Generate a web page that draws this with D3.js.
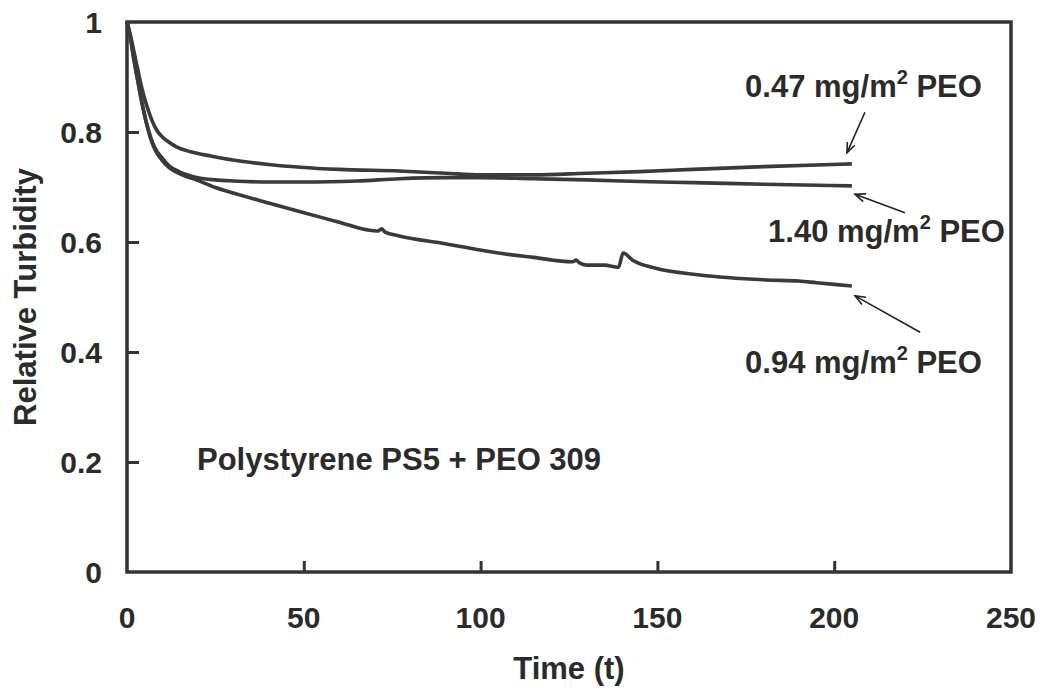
<!DOCTYPE html>
<html>
<head>
<meta charset="utf-8">
<script src="https://cdn.jsdelivr.net/npm/d3@7"></script>
<style>
  body { margin: 0; background: #fff; }
  text { font-family: Arial, "Liberation Sans", sans-serif; font-weight: bold; fill: #2b2b2b; }
</style>
</head>
<body>
<div id="chart"></div>
<script>
// time axis values
var t047 = [0, 1, 2, 3, 4, 5, 6, 7, 8, 9, 10, 11.3, 14, 18, 24, 30, 40, 49, 60, 77, 90, 100, 115, 130, 145, 160, 180, 205];
var v047 = [1.0, 0.975, 0.945, 0.915, 0.885, 0.86, 0.84, 0.822, 0.808, 0.798, 0.791, 0.784, 0.773, 0.764, 0.756, 0.749, 0.741, 0.736, 0.732, 0.729, 0.725, 0.722, 0.722, 0.725, 0.728, 0.732, 0.737, 0.742];

var t140 = [0, 1, 2, 3, 4, 5, 6, 7, 8, 10, 12, 15, 20, 25, 30, 40, 50, 65, 77, 90, 100, 115, 130, 145, 160, 180, 205];
var v140 = [1.0, 0.97, 0.93, 0.895, 0.86, 0.83, 0.805, 0.785, 0.77, 0.752, 0.738, 0.727, 0.717, 0.713, 0.711, 0.709, 0.709, 0.711, 0.715, 0.717, 0.717, 0.715, 0.713, 0.71, 0.708, 0.705, 0.702];

var t094 = [0, 1, 2, 3, 4, 5, 6, 7, 8, 10, 12, 15, 20, 25, 30, 40, 49, 60, 68, 71, 72, 73, 77, 90, 105, 115, 126, 127, 128, 130, 135, 139, 140.3, 143, 149, 162, 181, 190, 195, 205];
var v094 = [1.0, 0.97, 0.93, 0.895, 0.86, 0.83, 0.803, 0.782, 0.767, 0.748, 0.735, 0.724, 0.712, 0.699, 0.689, 0.671, 0.655, 0.636, 0.622, 0.620, 0.624, 0.618, 0.611, 0.597, 0.58, 0.572, 0.564, 0.567, 0.562, 0.558, 0.558, 0.554, 0.58, 0.567, 0.553, 0.54, 0.531, 0.529, 0.526, 0.52];

var xTicks = [0, 50, 100, 150, 200, 250];
var yTicks = [0, 0.2, 0.4, 0.6, 0.8, 1];

// labels: text, start t, baseline v, arrow tail (t,v), arrow head (t,v)
var labelText = ["0.47", "1.40", "0.94"];
var labelT = [174.8, 181.3, 174.8];
var labelV = [0.864, 0.600, 0.362];
var arrowFrom = [[208.7, 0.836], [220, 0.653], [224.3, 0.436]];
var arrowTo = [[203.6, 0.762], [205.9, 0.687], [205.9, 0.502]];

var width = 1040, height = 689;
var margin = {left: 127, right: 29, top: 22, bottom: 117};

var svg = d3.select("#chart").append("svg")
  .attr("width", width)
  .attr("height", height);

var x = d3.scaleLinear().domain([0, 250]).range([margin.left, width - margin.right]);
var y = d3.scaleLinear().domain([0, 1]).range([height - margin.bottom, margin.top]);

var ink = "#333";

// frame
svg.append("rect")
  .attr("x", x(0)).attr("y", y(1))
  .attr("width", x(250) - x(0)).attr("height", y(0) - y(1))
  .attr("fill", "none").attr("stroke", ink).attr("stroke-width", 3.5);

// inward ticks on left and bottom
svg.append("g")
  .attr("transform", "translate(0," + y(0) + ")")
  .call(d3.axisBottom(x).tickValues(xTicks.slice(1, -1)).tickSizeInner(-11).tickSizeOuter(0).tickFormat(""))
  .call(function(g) { g.select(".domain").remove(); })
  .selectAll("line").attr("stroke", ink).attr("stroke-width", 3);

svg.append("g")
  .attr("transform", "translate(" + x(0) + ",0)")
  .call(d3.axisLeft(y).tickValues(yTicks.slice(1, -1)).tickSizeInner(-12).tickSizeOuter(0).tickFormat(""))
  .call(function(g) { g.select(".domain").remove(); })
  .selectAll("line").attr("stroke", ink).attr("stroke-width", 3);

// tick labels
svg.append("g").selectAll("text")
  .data(xTicks)
  .enter().append("text")
    .attr("x", function(d) { return x(d); })
    .attr("y", y(0) + 56)
    .attr("text-anchor", "middle")
    .attr("font-size", 30)
    .text(function(d) { return d; });

svg.append("g").selectAll("text")
  .data(yTicks)
  .enter().append("text")
    .attr("x", x(0) - 25)
    .attr("y", function(d) { return y(d) + 11; })
    .attr("text-anchor", "end")
    .attr("font-size", 30)
    .text(function(d) { return d; });

// axis titles
svg.append("text")
  .attr("x", (x(0) + x(250)) / 2)
  .attr("y", 679)
  .attr("text-anchor", "middle")
  .attr("font-size", 31)
  .text("Time (t)");

svg.append("text")
  .attr("transform", "translate(36," + (y(0) + y(1)) / 2 + ") rotate(-90)")
  .attr("text-anchor", "middle")
  .attr("font-size", 31)
  .text("Relative Turbidity");

// curves
var series = [
  {t: t047, v: v047},
  {t: t140, v: v140},
  {t: t094, v: v094}
];

var line = d3.line()
  .x(function(d) { return x(d[0]); })
  .y(function(d) { return y(d[1]); })
  .curve(d3.curveMonotoneX);

svg.append("g").selectAll("path")
  .data(series)
  .enter().append("path")
    .attr("d", function(s) { return line(d3.zip(s.t, s.v)); })
    .attr("fill", "none")
    .attr("stroke", "#3a3a3a")
    .attr("stroke-width", 3.6)
    .attr("stroke-linejoin", "round");

// annotations
var ann = svg.append("g");
labelText.forEach(function(s, i) {
  var tx = ann.append("text")
    .attr("x", x(labelT[i]))
    .attr("y", y(labelV[i]))
    .attr("font-size", 31);
  tx.append("tspan").text(s + " mg/m");
  tx.append("tspan").attr("dy", -13).attr("font-size", 20).text("2");
  tx.append("tspan").attr("dy", 13).text(" PEO");

  var x1 = x(arrowFrom[i][0]), y1 = y(arrowFrom[i][1]);
  var x2 = x(arrowTo[i][0]), y2 = y(arrowTo[i][1]);
  var a = Math.atan2(y2 - y1, x2 - x1);
  var hl = 11, hw = 0.38;
  ann.append("line")
    .attr("x1", x1).attr("y1", y1).attr("x2", x2).attr("y2", y2)
    .attr("stroke", "#222").attr("stroke-width", 1.6);
  ann.append("path")
    .attr("d", "M" + (x2 - hl * Math.cos(a - hw)) + "," + (y2 - hl * Math.sin(a - hw)) +
               "L" + x2 + "," + y2 +
               "L" + (x2 - hl * Math.cos(a + hw)) + "," + (y2 - hl * Math.sin(a + hw)))
    .attr("fill", "none").attr("stroke", "#222").attr("stroke-width", 1.6);
});

svg.append("text")
  .attr("x", x(19.8))
  .attr("y", y(0.185))
  .attr("font-size", 31)
  .text("Polystyrene PS5 + PEO 309");
</script>
</body>
</html>
